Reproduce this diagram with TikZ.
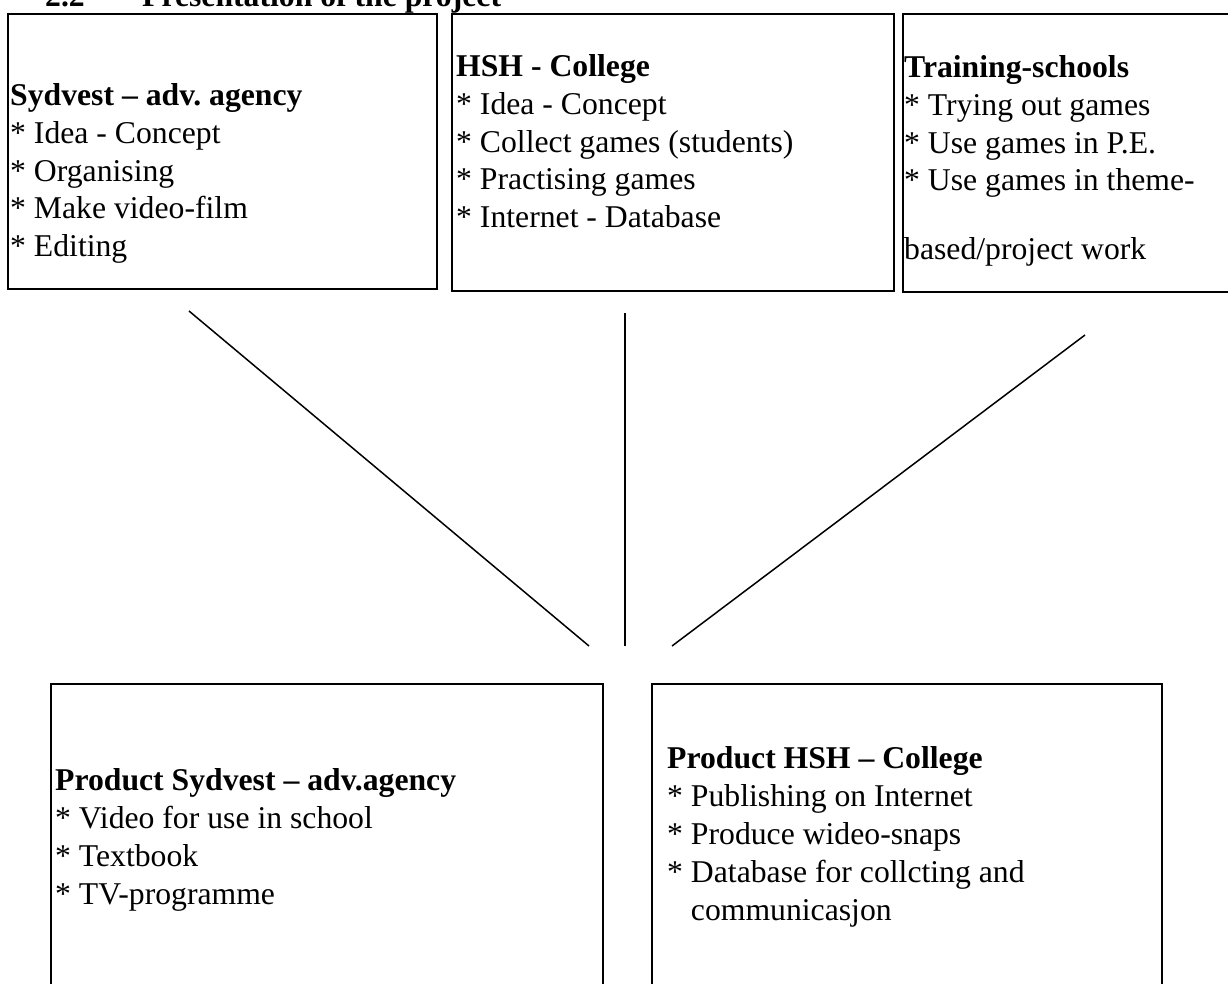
\documentclass[tikz,border=0pt]{standalone}
\usepackage{fontspec}
\setmainfont{Liberation Serif}
\frenchspacing
\begin{document}
\begin{tikzpicture}[x=1pt,y=-1pt,
  box/.style={draw=black,line width=2pt,rectangle,inner sep=0pt,anchor=north west},
  txt/.style={anchor=base west,inner sep=0pt,font=\fontsize{31.7}{37.6}\selectfont},
  head/.style={txt,font=\fontsize{31.7}{37.6}\selectfont\bfseries},
  link/.style={draw=black,line width=1.5pt}]
\clip (0,0) rectangle (1228,984);
\fill[white] (0,0) rectangle (1228,984);
% title
\node[head] (t1) at (45,7) {2.2};
\node[head] (t2) at (142,7) {Presentation of the project};
% boxes
\node[box,minimum width=429pt,minimum height=275pt] (b1) at (7,13) {};
\node[box,minimum width=442pt,minimum height=277pt] (b2) at (451,13) {};
\node[box,minimum width=330pt,minimum height=278pt] (b3) at (902,13) {};
\node[box,minimum width=552pt,minimum height=320pt] (b4) at (50,683) {};
\node[box,minimum width=510pt,minimum height=320pt] (b5) at (651,683) {};
% box 1
\node[head] (a0) at (10,106) {Sydvest – adv. agency};
\node[txt] (a1) at (10,143.6) {* Idea - Concept};
\node[txt] (a2) at (10,181.2) {* Organising};
\node[txt] (a3) at (10,218.8) {* Make video-film};
\node[txt] (a4) at (10,256.4) {* Editing};
% box 2
\node[head] (c0) at (456,77) {HSH - College};
\node[txt] (c1) at (456,114.6) {* Idea - Concept};
\node[txt] (c2) at (456,152.2) {* Collect games (students)};
\node[txt] (c3) at (456,189.8) {* Practising games};
\node[txt] (c4) at (456,227.4) {* Internet - Database};
% box 3
\node[head] (d0) at (904,78) {Training-schools};
\node[txt] (d1) at (904,115.6) {* Trying out games};
\node[txt] (d2) at (904,153.2) {* Use games in P.E.};
\node[txt] (d3) at (904,190.8) {* Use games in theme-};
\node[txt] (d4) at (904,260) {based/project work};
% box 4
\node[head] (e0) at (55,790) {Product Sydvest – adv.agency};
\node[txt] (e1) at (55,828) {* Video for use in school};
\node[txt] (e2) at (55,866) {* Textbook};
\node[txt] (e3) at (55,904) {* TV-programme};
% box 5
\node[head] (f0) at (667,768) {Product HSH – College};
\node[txt] (f1) at (667,806) {* Publishing on Internet};
\node[txt] (f2) at (667,844) {* Produce wideo-snaps};
\node[txt] (f3) at (667,882) {* Database for collcting and};
\node[txt] (f4) at (667,920) {\phantom{* }communicasjon};
% connectors
\coordinate (p1) at (189,311);
\coordinate (q1) at (589,646);
\coordinate (p2) at (625,313);
\coordinate (q2) at (625,646);
\coordinate (p3) at (1085,335);
\coordinate (q3) at (672,646);
\draw[link] (p1) -- (q1);
\draw[link] (p2) -- (q2);
\draw[link] (p3) -- (q3);
\end{tikzpicture}
\end{document}
